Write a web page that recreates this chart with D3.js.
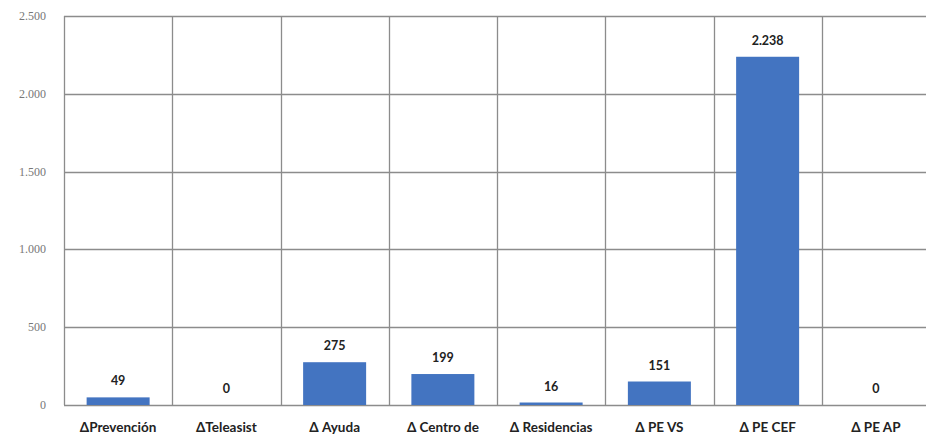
<!DOCTYPE html>
<html><head><meta charset="utf-8">
<script src="https://cdn.jsdelivr.net/npm/d3@7"></script>
<style>body{margin:0;background:#fff}svg{display:block}</style>
</head><body>
<svg id="c" width="926" height="438"></svg>
<script>
const categories = ["ΔPrevención","ΔTeleasist","Δ Ayuda","Δ Centro de","Δ Residencias","Δ PE VS","Δ PE CEF","Δ PE AP"];
const values = [49,0,275,199,16,151,2238,0];
const yTicks = [0,500,1000,1500,2000,2500];

const fmt = v => d3.format(",")(v).replace(/,/g,".");
const svg = d3.select("#c");
const L=64, R=930, T=16, B=405;
const x = d3.scaleBand().domain(categories).range([L,R]).paddingInner(0).paddingOuter(0);
const y = d3.scaleLinear().domain([0,2500]).range([B,T]);

svg.append("g").selectAll("line").data(yTicks).join("line")
  .attr("x1",L).attr("x2",R).attr("y1",d=>Math.round(y(d))+0.5).attr("y2",d=>Math.round(y(d))+0.5)
  .attr("stroke","#8c8c8c").attr("stroke-width",1.3);
const bounds = categories.map(c=>x(c)).concat([R]);
svg.append("g").selectAll("line").data(bounds).join("line")
  .attr("x1",d=>Math.round(d)+0.5).attr("x2",d=>Math.round(d)+0.5).attr("y1",T).attr("y2",B)
  .attr("stroke","#8c8c8c").attr("stroke-width",1.3);

svg.append("g").selectAll("text").data(yTicks).join("text")
  .attr("x",46).attr("y",d=>y(d)+4)
  .attr("text-anchor","end")
  .attr("font-family","Liberation Serif").attr("font-size",12).attr("fill","#777")
  .text(fmt);

const bw = 63;
svg.append("g").selectAll("rect").data(values).join("rect")
  .attr("x",(d,i)=>x(categories[i])+x.bandwidth()/2-bw/2)
  .attr("width",bw)
  .attr("y",d=>y(d))
  .attr("height",d=>B-y(d))
  .attr("fill","#4374c1");

svg.append("g").selectAll("text").data(values).join("text")
  .attr("x",(d,i)=>x(categories[i])+x.bandwidth()/2)
  .attr("y",d=>y(d)-12)
  .attr("text-anchor","middle")
  .attr("font-family","Lato").attr("font-weight","bold").attr("font-size",12.5).attr("fill","#222")
  .text(fmt);

svg.append("g").selectAll("text").data(categories).join("text")
  .attr("x",d=>x(d)+x.bandwidth()/2)
  .attr("y",432)
  .attr("text-anchor","middle")
  .attr("font-family","Lato").attr("font-weight","bold").attr("font-size",13.5).attr("fill","#222")
  .text(d=>d);
</script>
</body></html>
